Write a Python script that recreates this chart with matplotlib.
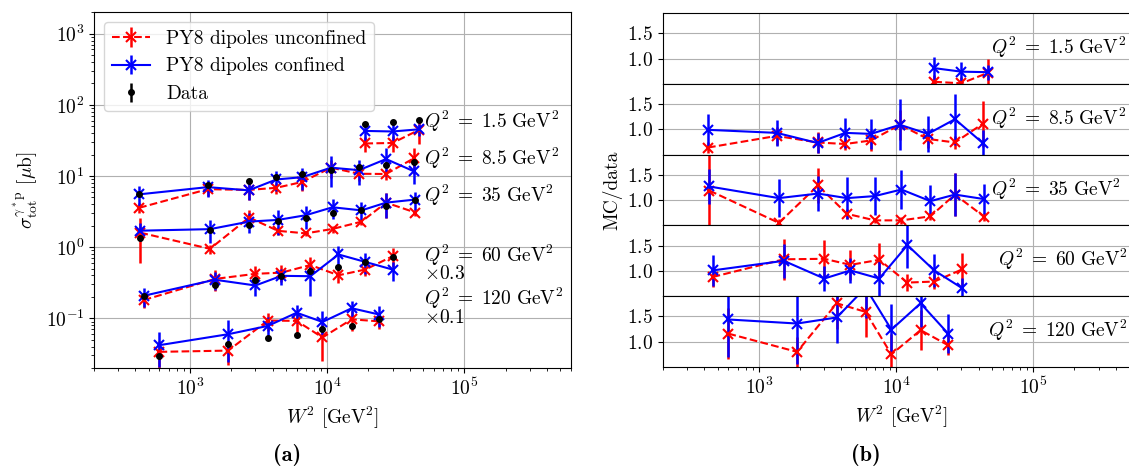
import numpy as np
import matplotlib
matplotlib.use("Agg")
import matplotlib.pyplot as plt

plt.rcParams.update({
    "font.family": "serif",
    "font.serif": ["cmr10"],
    "mathtext.fontset": "cm",
    "axes.formatter.use_mathtext": True,
    "font.size": 14,
})

# Q^2 bins, W^2 bin centres [GeV^2], measured cross sections [mub]
q2_labels = ["1.5", "8.5", "35", "60", "120"]
q2_scale = [1.0, 1.0, 1.0, 0.3, 0.1]

w2_q1p5 = [19000, 30000, 47000]
w2_q8p5 = [426, 1350, 2680, 4270, 6570, 10680, 17070, 26900, 42850]
w2_q35 = [435, 1400, 2700, 4380, 7000, 10950, 17800, 26900, 44000]
w2_q60 = [460, 1520, 3000, 4650, 7550, 12100, 19000, 30300]
w2_q120 = [600, 1900, 3700, 6000, 9250, 15100, 24000]

data_q1p5 = [53, 57, 62]
data_q8p5 = [5.57, 7.49, 8.6, 9.6, 10.55, 12.0, 13.25, 14.4, 15.95]
data_q35 = [1.34, 1.72, 2.02, 2.32, 2.6, 3.0, 3.35, 3.8, 4.57]
data_q60 = [0.683, 0.967, 1.133, 1.303, 1.53, 1.74, 2.043, 2.43]
data_q120 = [0.291, 0.439, 0.528, 0.578, 0.716, 0.786, 0.973]

# MC / data, unconfined dipoles
ratio_unconf_q1p5 = [0.54, 0.51, 0.72]
ratio_unconf_q8p5 = [0.64, 0.87, 0.74, 0.71, 0.78, 1.09, 0.81, 0.74, 1.11]
ratio_unconf_q35 = [1.19, 0.55, 1.29, 0.73, 0.60, 0.60, 0.68, 1.11, 0.67]
ratio_unconf_q60 = [0.88, 1.23, 1.24, 1.12, 1.22, 0.77, 0.79, 1.03]
ratio_unconf_q120 = [1.16, 0.80, 1.76, 1.59, 0.75, 1.23, 0.93]

# MC / data, confined dipoles
ratio_conf_q1p5 = [0.81, 0.74, 0.73]
ratio_conf_q8p5 = [0.99, 0.93, 0.73, 0.93, 0.91, 1.09, 0.91, 1.20, 0.73]
ratio_conf_q35 = [1.27, 1.04, 1.13, 1.04, 1.08, 1.21, 0.98, 1.11, 1.02]
ratio_conf_q60 = [1.01, 1.20, 0.85, 1.01, 0.85, 1.51, 1.01, 0.66]
ratio_conf_q120 = [1.44, 1.36, 1.48, 2.07, 1.24, 1.76, 1.16]

# MC statistical uncertainty on the ratio
err_unconf_q1p5 = [0.13, 0.13, 0.27]
err_unconf_q8p5 = [0.10, 0.17, 0.20, 0.12, 0.20, 0.30, 0.17, 0.13, 0.45]
err_unconf_q35 = [0.75, 0.08, 0.35, 0.10, 0.05, 0.07, 0.07, 0.43, 0.08]
err_unconf_q60 = [0.20, 0.41, 0.37, 0.30, 0.34, 0.17, 0.15, 0.32]
err_unconf_q120 = [0.50, 0.30, 0.50, 0.50, 0.40, 0.40, 0.20]

err_conf_q1p5 = [0.23, 0.20, 0.15]
err_conf_q8p5 = [0.31, 0.25, 0.20, 0.30, 0.30, 0.50, 0.35, 0.50, 0.25]
err_conf_q35 = [0.35, 0.37, 0.35, 0.41, 0.38, 0.38, 0.31, 0.43, 0.29]
err_conf_q60 = [0.30, 0.33, 0.24, 0.25, 0.40, 0.46, 0.33, 0.20]
err_conf_q120 = [0.74, 0.80, 0.50, 0.60, 0.50, 0.46, 0.38]

data_rel_err = 0.03

bins = []
for i, lab in enumerate(q2_labels):
    key = ["q1p5", "q8p5", "q35", "q60", "q120"][i]
    g = globals()
    bins.append(dict(
        label=lab, scale=q2_scale[i],
        w2=np.array(g["w2_" + key], float),
        data=np.array(g["data_" + key], float),
        r_unc=np.array(g["ratio_unconf_" + key], float),
        r_con=np.array(g["ratio_conf_" + key], float),
        e_unc=np.array(g["err_unconf_" + key], float),
        e_con=np.array(g["err_conf_" + key], float),
    ))

red_kw = dict(color="red", ls="--", marker="x", ms=7, mew=1.5, lw=1.5, elinewidth=1.8)
blue_kw = dict(color="blue", ls="-", marker="x", ms=7, mew=1.5, lw=1.5, elinewidth=1.8)


def q2_text(lab):
    return rf"$Q^2 \;=\; {lab}\ \mathrm{{GeV}}^2$"


fig = plt.figure(figsize=(11.29, 4.70), dpi=100)

# ---- (a) cross sections ----
ax = fig.add_axes([0.0833, 0.217, 0.4225, 0.757])
for n, b in enumerate(bins):
    s = b["scale"]
    d = b["data"] * s
    ax.errorbar(b["w2"], b["r_unc"] * d, yerr=b["e_unc"] * d, **red_kw,
                label="PY8 dipoles unconfined" if n == 0 else None)
    ax.errorbar(b["w2"], b["r_con"] * d, yerr=b["e_con"] * d, **blue_kw,
                label="PY8 dipoles confined" if n == 0 else None)
    ax.errorbar(b["w2"], d, yerr=data_rel_err * d, fmt="o", color="black",
                ms=4, elinewidth=1.8, zorder=5,
                label="Data" if n == 0 else None)

ax.set_xscale("log")
ax.set_yscale("log")
ax.set_xlim(200, 6e5)
ax.set_ylim(0.02, 2000)
ax.grid(True)
ax.set_xlabel(r"$W^2$ [GeV$^2$]")
ax.set_ylabel(r"$\sigma^{\gamma^*\mathrm{p}}_{\mathrm{tot}}$ [$\mu$b]")
ax.legend(loc="upper left", fontsize=14)

txt_x = 5.1e4
ax.text(txt_x, 59, q2_text("1.5"), va="center")
ax.text(txt_x, 17.7, q2_text("8.5"), va="center")
ax.text(txt_x, 5.4, q2_text("35"), va="center")
# scaled bins: label and scale factor stacked tightly
ax.text(txt_x, 0.60, q2_text("60") + "\n" + r"$\times 0.3$",
        va="center", linespacing=0.82)
ax.text(txt_x, 0.146, q2_text("120") + "\n" + r"$\times 0.1$",
        va="center", linespacing=0.82)

# ---- (b) ratios, one strip per Q^2 ----
x0, y_top, h_tot, w = 0.5872, 0.9723, 0.7532, 0.4225
h = h_tot / len(bins)
label_x = [4.92e4, 4.92e4, 4.92e4, 5.55e4, 4.68e4]
raxes = []
for n, b in enumerate(bins):
    rax = fig.add_axes([x0, y_top - (n + 1) * h, w, h],
                       sharex=raxes[0] if raxes else None)
    rax.errorbar(b["w2"], b["r_unc"], yerr=b["e_unc"], **red_kw)
    rax.errorbar(b["w2"], b["r_con"], yerr=b["e_con"], **blue_kw)
    rax.set_xscale("log")
    rax.set_xlim(200, 6e5)
    rax.set_ylim(0.5, 1.9)
    rax.set_yticks([1.0, 1.5])
    rax.grid(True)
    rax.text(label_x[n], 1.22, q2_text(b["label"]), va="center")
    if n < len(bins) - 1:
        rax.tick_params(axis="x", which="both", labelbottom=False, length=0)
    raxes.append(rax)

raxes[-1].set_xlabel(r"$W^2$ [GeV$^2$]")
fig.text(0.542, 0.596, "MC/data", rotation=90, ha="center", va="center")

fig.text(0.254, 0.032, "(a)", family="cmb10", ha="center", va="center", fontsize=16)
fig.text(0.767, 0.032, "(b)", family="cmb10", ha="center", va="center", fontsize=16)

fig.savefig("out.png", dpi=100)
